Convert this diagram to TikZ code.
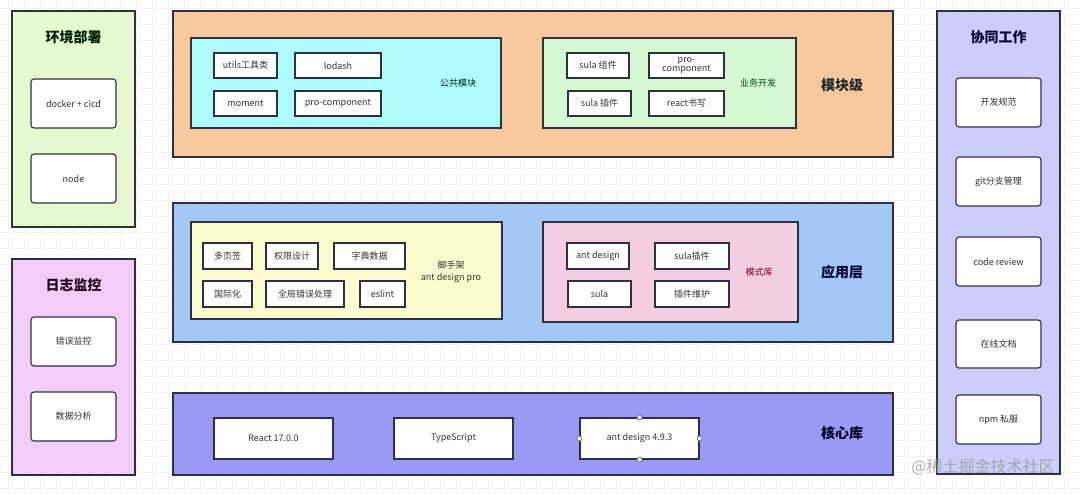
\documentclass[tikz,border=0pt]{standalone}
\usepackage{fontspec}
\setmainfont{Noto Sans CJK SC}
\begin{document}
\begin{tikzpicture}[x=1pt,y=-1pt,
  panel/.style={draw=bordercol, line width=1.2pt, inner sep=0pt},
  inner/.style={draw=bordercol, line width=1.1pt, inner sep=0pt},
  box/.style={draw=bordercol, line width=1.1pt, fill=white, inner sep=0pt, text=txtcol, font=\fontsize{9}{10}\selectfont, align=center},
  rbox/.style={box, rounded corners=3pt, minimum width=85pt, minimum height=49pt},
  sbox/.style={box, minimum height=25pt},
  ybox/.style={box, minimum height=26pt},
  cbox/.style={box, minimum width=119pt, minimum height=41pt},
  title/.style={font=\fontsize{14}{16}\selectfont\bfseries, inner sep=0pt},
  lbl/.style={font=\fontsize{9}{11}\selectfont, inner sep=0pt, align=center},
  handle/.style={circle, draw=bordercol!70, fill=white, line width=0.7pt, minimum size=5pt, inner sep=0pt}
]
\definecolor{bordercol}{HTML}{2E3040}
\definecolor{txtcol}{HTML}{333333}
\definecolor{envfill}{HTML}{E6F8CD}
\definecolor{logfill}{HTML}{F2CDF8}
\definecolor{orgfill}{HTML}{F5C99D}
\definecolor{cyanfill}{HTML}{AEFBFB}
\definecolor{grnfill}{HTML}{D5F8D2}
\definecolor{bluefill}{HTML}{A3C8F5}
\definecolor{yelfill}{HTML}{FBFBCD}
\definecolor{pinkfill}{HTML}{F5CDE2}
\definecolor{corefill}{HTML}{9A9AF4}
\definecolor{lavfill}{HTML}{CDCDFB}
\useasboundingbox (0,0) rectangle (1080,495);
\fill[white] (0,0) rectangle (1080,495);
\foreach \gx in {8,24,...,1080} \draw[black!5, line width=0.5pt] (\gx,0) -- (\gx,495);
\foreach \gy in {8,24,...,495} \draw[black!5, line width=0.5pt] (0,\gy) -- (1080,\gy);

% left panels
\node[panel, fill=envfill, minimum width=123pt, minimum height=216pt] (env) at (73.5,119) {};
\node[title, text=black!80!green!60!black] (envt) at (73.5,37) {环境部署};
\node[rbox] (docker) at (73.5,103.5) {docker + cicd};
\node[rbox] (nodejs) at (73.5,178.5) {node};

\node[panel, fill=logfill, minimum width=123pt, minimum height=216pt] (log) at (73.5,367) {};
\node[title, text=black!75!violet] (logt) at (73.5,285) {日志监控};
\node[rbox] (errmon) at (73.5,341.5) {错误监控};
\node[rbox] (data) at (73.5,416.5) {数据分析};

% module level
\node[panel, fill=orgfill, minimum width=720pt, minimum height=146pt] (mod) at (533,84) {};
\node[title, text=black!85] (modt) at (842,85) {模块级};
\node[inner, fill=cyanfill, minimum width=310pt, minimum height=90pt] (pub) at (346,83) {};
\node[sbox, minimum width=63pt] (utils) at (245.5,65.5) {utils工具类};
\node[sbox, minimum width=86pt] (lodash) at (338,65.5) {lodash};
\node[sbox, minimum width=63pt] (moment) at (245.5,103.5) {moment};
\node[sbox, minimum width=86pt] (procomp) at (338,103.5) {pro-component};
\node[lbl, text=black!70!teal] (pubt) at (458,83) {公共模块};
\node[inner, fill=grnfill, minimum width=253pt, minimum height=90pt] (biz) at (669.5,83) {};
\node[sbox, minimum width=62pt] (sulacomp) at (598,65.5) {sula 组件};
\node[sbox, minimum width=75pt, font=\fontsize{9}{9.5}\selectfont] (procomp2) at (686.5,65.5) {pro-\\component};
\node[sbox, minimum width=63pt] (sulaplug) at (599.5,103.5) {sula 插件};
\node[sbox, minimum width=75pt] (react) at (686.5,103.5) {react书写};
\node[lbl, text=black!70!green] (bizt) at (758,83) {业务开发};

% application layer
\node[panel, fill=bluefill, minimum width=720pt, minimum height=139pt] (app) at (533,272.5) {};
\node[title, text=black!80!blue] (appt) at (842,272) {应用层};
\node[inner, fill=yelfill, minimum width=311pt, minimum height=97pt] (scaf) at (346.5,270.5) {};
\node[ybox, minimum width=49pt] (tabs) at (227.5,256) {多页签};
\node[ybox, minimum width=52pt] (perm) at (292,256) {权限设计};
\node[ybox, minimum width=71pt] (dict) at (369.5,256) {字典数据};
\node[ybox, minimum width=49pt] (i18n) at (227.5,294) {国际化};
\node[ybox, minimum width=78pt] (gerr) at (305,294) {全局错误处理};
\node[ybox, minimum width=45pt] (eslint) at (382.5,294) {eslint};
\node[lbl, text=black!80, font=\fontsize{9}{12}\selectfont] (scaft) at (451,272) {脚手架\\ant design pro};
\node[inner, fill=pinkfill, minimum width=255pt, minimum height=100pt] (pat) at (670.5,272) {};
\node[ybox, minimum width=62pt] (antd) at (598,256) {ant design};
\node[ybox, minimum width=74pt] (sulap) at (692,256) {sula插件};
\node[ybox, minimum width=63pt] (sula) at (599.5,294) {sula};
\node[ybox, minimum width=74pt] (plugm) at (692,294) {插件维护};
\node[lbl, text=black!40!purple] (patt) at (759,272) {模式库};

% core
\node[panel, fill=corefill, minimum width=720pt, minimum height=82pt] (core) at (533,434) {};
\node[title, text=black!85!blue] (coret) at (842,433) {核心库};
\node[cbox] (reactv) at (273.5,438.5) {React 17.0.0};
\node[cbox] (ts) at (453.5,438.5) {TypeScript};
\node[cbox] (antdv) at (639.5,438.5) {ant design 4.9.3};
\node[handle] (h1) at (antdv.north) {};
\node[handle] (h2) at (antdv.south) {};
\node[handle] (h3) at (antdv.west) {};
\node[handle] (h4) at (antdv.east) {};

% right panel
\node[panel, fill=lavfill, minimum width=123pt, minimum height=463pt] (collab) at (998.5,242.5) {};
\node[title, text=black!80!blue] (collabt) at (998.5,37) {协同工作};
\node[rbox] (spec) at (998.5,102.5) {开发规范};
\node[rbox] (git) at (998.5,181.5) {git分支管理};
\node[rbox] (cr) at (998.5,261.5) {code review};
\node[rbox, minimum height=48pt] (doc) at (998.5,344) {在线文档};
\node[rbox] (npm) at (998.5,419.5) {npm 私服};

% watermark
\node[font=\fontsize{16}{18}\selectfont, text=black!40, opacity=0.8, inner sep=0pt] (wm) at (983,467) {@稀土掘金技术社区};
\end{tikzpicture}
\end{document}
